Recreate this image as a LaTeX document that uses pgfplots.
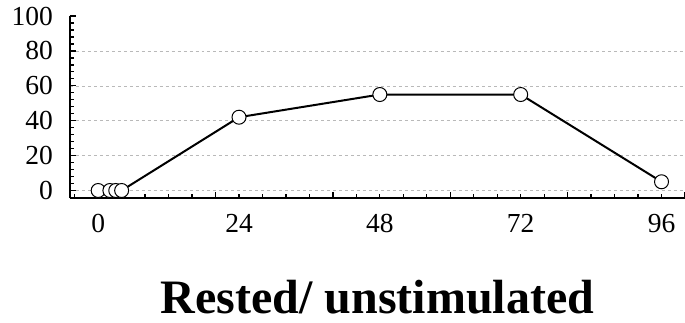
\documentclass[border=0pt]{standalone}
\usepackage{fontspec}
\setmainfont{Liberation Serif}
\usepackage{pgfplots}
\pgfplotsset{compat=1.18}
\begin{document}
\begin{tikzpicture}
\begin{axis}[
  scale only axis,
  width=615bp, height=182bp,
  xmin=-4.8, xmax=100, ymin=-4.3, ymax=100,
  axis x line=bottom, axis y line=left,
  axis line style={-, line width=2bp, black},
  tick align=inside,
  xtick={-20,0,20,40,60,80,100}, xticklabels={},
  minor xtick={-4,0,...,100},
  extra x ticks={0,24,48,72,96},
  extra x tick labels={0,24,48,72,96},
  extra x tick style={major tick length=0pt, grid=none},
  ytick={0,20,40,60,80},
  extra y ticks={100},
  extra y tick style={grid=none},
  minor ytick={-4,0,...,100},
  major tick length=6bp, minor tick length=4bp,
  every tick/.style={black, line width=1.3bp},
  ymajorgrids,
  major grid style={gray!55, dashed, line width=0.5bp},
  /pgf/number format/assume math mode=true,
  tick label style={font=\fontsize{27.5bp}{31bp}\selectfont},
  xticklabel style={anchor=base, yshift=-34bp, inner sep=0pt},
  yticklabel style={anchor=east, inner sep=0pt, xshift=-17bp},
  xlabel={Rested/ unstimulated},
  xlabel style={at={(axis description cs:0.5,0)}, anchor=base, yshift=-115bp, inner sep=0pt, font=\fontsize{48bp}{54bp}\selectfont\bfseries},
]
\addplot[black, line width=2bp, mark=*, mark size=7bp, mark options={fill=white, draw=black, line width=1bp}]
coordinates {(0,0) (2,0) (3,0) (4,0) (24,42) (48,55) (72,55) (96,5)};
\end{axis}
\pgfresetboundingbox
\path[use as bounding box] ([shift={(-70bp,-125bp)}]current axis.south west) rectangle ([shift={(0bp,16bp)}]current axis.north east);
\end{tikzpicture}
\end{document}
